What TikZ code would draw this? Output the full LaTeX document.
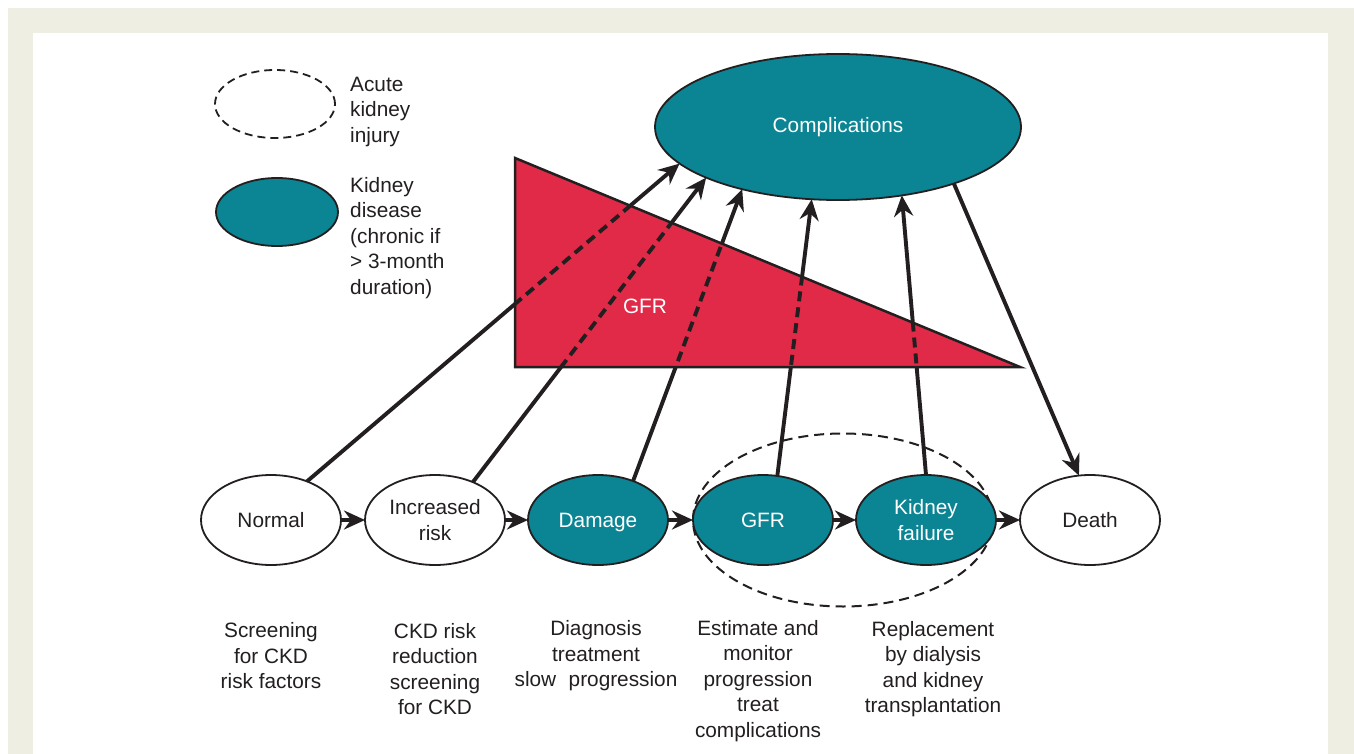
\documentclass[tikz,border=0pt]{standalone}
\usepackage{fontspec}
\setmainfont{Liberation Sans}
\usetikzlibrary{arrows.meta,shapes.geometric}
\definecolor{kteal}{HTML}{0B8493}
\definecolor{kred}{HTML}{E02A48}
\definecolor{kbeige}{HTML}{EFEEE3}
\definecolor{ink}{HTML}{231F20}
\begin{document}
\begin{tikzpicture}[x=1pt,y=-1pt,
  every node/.style={font=\fontsize{20.8}{25.5}\selectfont, text=ink},
  stage/.style={ellipse, draw=ink, line width=1.8pt, minimum width=140pt, minimum height=90pt, inner sep=0pt, outer sep=0pt, align=center},
  dis/.style={stage, fill=kteal, text=white},
  well/.style={stage, fill=white},
  oneline/.style={text depth=0pt},
  arr/.style={line width=3.9pt, draw=ink, -{Stealth[length=21pt,width=19pt,inset=7pt]}},
  dashline/.style={line width=3.9pt, draw=ink, dash pattern=on 10pt off 6pt},
  akistyle/.style={ellipse, draw=ink, line width=2pt, dash pattern=on 10pt off 6pt, inner sep=0pt, outer sep=0pt},
  lbl/.style={align=center, inner sep=0pt},
  leg/.style={align=left, anchor=west, inner sep=0pt}]
\useasboundingbox (0,0) rectangle (1354,754);
\fill[white] (0,0) rectangle (1354,754);
\fill[kbeige] (8,8) rectangle (1354,754);
\fill[white] (33,33) rectangle (1328,754);

% GFR triangle fill
\fill[kred] (515,158) -- (515,367) -- (1020,367) -- cycle;

% dashed acute kidney injury ellipse behind nodes
\node[akistyle, minimum width=300pt, minimum height=173pt] (aki) at (843,520) {};

% complications
\node[ellipse, draw=ink, line width=1.8pt, fill=kteal, text=white, minimum width=366pt, minimum height=146pt, inner sep=0pt, outer sep=0pt] (comp) at (838,127) {Complications};

% legend
\node[akistyle, line width=1.8pt, dash pattern=on 8pt off 5pt, minimum width=120pt, minimum height=68pt] (legaki) at (275,104) {};
\node[leg] (legakit) at (350,112) {Acute\\kidney\\injury};
\node[ellipse, draw=ink, line width=1.8pt, fill=kteal, minimum width=122pt, minimum height=68pt, inner sep=0pt] (legckd) at (277,212) {};
\node[leg] (legckdt) at (350,238) {Kidney\\disease\\(chronic if\\> 3-month\\duration)};

% stages
\node[well, oneline] (normal) at (271,520) {Normal};
\node[well] (inc) at (435,520) {Increased\\risk};
\node[dis, oneline] (dam) at (598,520) {Damage};
\node[dis, oneline] (gfr) at (763,520) {GFR};
\node[dis] (kf) at (926,520) {Kidney\\failure};
\node[well, oneline] (death) at (1090,520) {Death};

% row arrows
\draw[arr] (normal.east) -- (inc.west);
\draw[arr] (inc.east) -- (dam.west);
\draw[arr] (dam.east) -- (gfr.west);
\draw[arr] (gfr.east) -- (kf.west);
\draw[arr] (kf.east) -- (death.west);

% arrows to complications
\draw[arr] (normal.47) -- (comp.193);
\draw[arr] (inc.45) -- (comp.201.8);
\draw[arr] (dam.48) -- (comp.213.3);
\draw[arr] (gfr.72.4) -- (comp.250.6);
\draw[arr] (kf.90) -- (comp.313.3);
\draw[arr] (comp.334.8) -- (death.104);

% dashed parts inside the triangle
\begin{scope}
  \clip (515,158) -- (515,367) -- (1020,367) -- cycle;
  \fill[kred] (515,158) -- (515,367) -- (1020,367) -- cycle;
  \draw[dashline] (normal.47) -- (comp.193);
  \draw[dashline] (inc.45) -- (comp.201.8);
  \draw[dashline] (dam.48) -- (comp.213.3);
  \draw[dashline] (gfr.72.4) -- (comp.250.6);
  \draw[dashline] (kf.90) -- (comp.313.3);
\end{scope}
\draw[ink, line width=2.5pt, line join=miter] (515,158) -- (515,367) -- (1020,367) -- cycle;
\node[text=white, inner sep=0pt] (gfrlabel) at (645,306) {GFR};

% bottom labels
\node[lbl] (t1) at (271,656) {Screening\\for CKD\\risk factors};
\node[lbl] (t2) at (435,669) {CKD risk\\reduction\\screening\\for CKD};
\node[lbl] (t3) at (596,656) {Diagnosis\\treatment\\slow\hspace{0.6em}progression};
\node[lbl] (t4) at (758,681) {Estimate and\\monitor\\progression\\treat\\complications};
\node[lbl] (t5) at (933,669) {Replacement\\by dialysis\\and kidney\\transplantation};
\end{tikzpicture}
\end{document}
